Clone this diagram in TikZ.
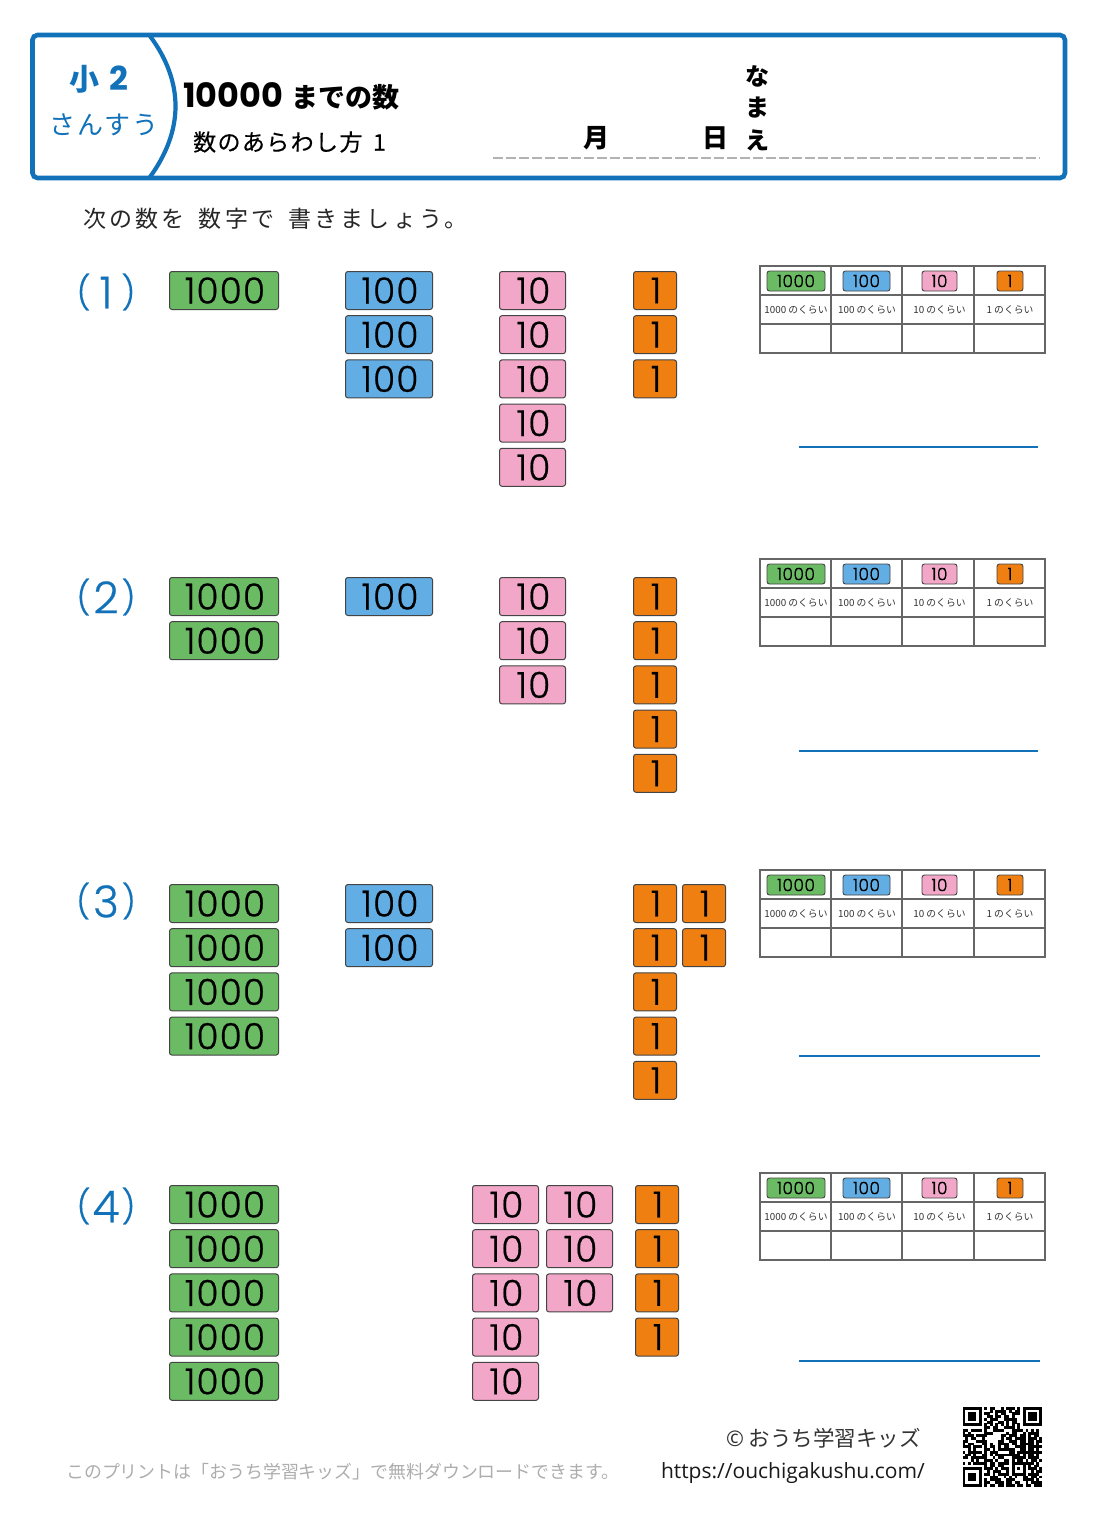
\documentclass[tikz,border=0pt]{standalone}
\usepackage{fontspec}
\setmainfont{Noto Sans CJK JP}
\newfontfamily\jp{Noto Sans CJK JP}
\newfontfamily\jpsp[LetterSpace=8]{Noto Sans CJK JP}
\newfontfamily\jplead[LetterSpace=14]{Noto Sans CJK JP}
\newfontfamily\jpspb[LetterSpace=6,FakeBold=0.25]{Noto Sans CJK JP}
\newfontfamily\lat{Open Sans}
\newfontfamily\pop{Poppins}
\newfontfamily\dig[UprightFont=* Light,LetterSpace=3,FakeBold=0.5]{Poppins}
\newfontfamily\digl[UprightFont=* Light,FakeBold=0.5]{Poppins}
\definecolor{hdblue}{HTML}{1272B9}
\definecolor{g1}{HTML}{6BBB64}
\definecolor{b1}{HTML}{62AEE4}
\definecolor{p1}{HTML}{F3A7C8}
\definecolor{o1}{HTML}{F07F12}
\definecolor{edgec}{HTML}{444444}
\definecolor{gridc}{HTML}{666666}
\tikzset{
 tile/.style={draw=edgec,line width=1pt,rounded corners=2.5pt,inner sep=0pt,anchor=north west,minimum height=38pt,font=\dig\fontsize{36}{36}\selectfont,text=black},
 t1000/.style={tile,fill=g1,minimum width=109pt},
 t100/.style={tile,fill=b1,minimum width=87pt},
 t10/.style={tile,fill=p1,minimum width=66pt},
 t1/.style={tile,fill=o1,minimum width=43pt},
 mini/.style={draw=edgec,line width=0.9pt,rounded corners=2.5pt,inner sep=0pt,minimum height=20pt,font=\dig\fontsize{17}{17}\selectfont,text=black},
 captxt/.style={font=\jp\fontsize{9.8}{9.8}\selectfont,text=black!80,inner sep=0pt},
 num/.style={text=hdblue,font=\digl\fontsize{44}{44}\selectfont,inner sep=0pt},
 ans/.style={draw=hdblue,line width=2pt},
}
\newcommand{\numlab}[2]{\raisebox{4pt}{\fontsize{33}{33}\selectfont(}\kern#2pt #1\kern#2pt\raisebox{4pt}{\fontsize{33}{33}\selectfont)}}
\newcommand{\blocks}[5]{% style, x, y0, n, label
 \foreach \i in {1,...,#4}{
  \node[#1] (#1-#2-#3-\i) at (#2,{#3+(\i-1)*44.2}) {\kern2pt #5};
 }}
\newcommand{\sheet}[1]{%
 \draw[gridc,line width=1.1pt] (760,#1) rectangle (1045,#1+87);
 \foreach \xx in {831,902,974} \draw[gridc,line width=1.1pt] (\xx,#1) -- (\xx,#1+87);
 \foreach \yy in {29,58} \draw[gridc,line width=1.1pt] (760,#1+\yy) -- (1045,#1+\yy);
 \node[mini,fill=g1,minimum width=58pt] (m1000-#1) at (796,#1+15) {1000};
 \node[mini,fill=b1,minimum width=47pt] (m100-#1) at (866.5,#1+15) {100};
 \node[mini,fill=p1,minimum width=35pt] (m10-#1) at (939.5,#1+15) {10};
 \node[mini,fill=o1,minimum width=26pt] (m1-#1) at (1010,#1+15) {1};
 \node[captxt] (c1000-#1) at (796,#1+44) {1000 のくらい};
 \node[captxt] (c100-#1) at (867,#1+44) {100 のくらい};
 \node[captxt] (c10-#1) at (939.5,#1+44) {10 のくらい};
 \node[captxt] (c1-#1) at (1010,#1+44) {1 のくらい};
}
\newcount\qrx
\newcount\qry
\def\qrscan#1{\ifx#1\relax\else
 \ifx#1X\fill[black] (\the\qrx,\the\qry) rectangle ++(1.03,1.03);\fi
 \advance\qrx by 1 \expandafter\qrscan\fi}
\newcommand{\qrrow}[1]{\global\qrx=0 \qrscan#1\relax \global\advance\qry by 1 }
\begin{document}
\begin{tikzpicture}[x=1pt,y=-1pt]
\useasboundingbox (0,0) rectangle (1095,1536);
\fill[white] (0,0) rectangle (1095,1536);
% header
\draw[hdblue,line width=4.6pt,rounded corners=5pt] (32.5,35) rectangle (1065,178);
\draw[hdblue,line width=4.2pt] (150,36) .. controls (184,82) and (184,130) .. (150,177);
\node[text=hdblue,inner sep=0pt,font=\jp\bfseries\fontsize{30}{30}\selectfont] (grade) at (99,79) {小\kern10pt{\pop\bfseries\fontsize{33}{33}\selectfont 2}};
\node[text=hdblue,inner sep=0pt,font=\jpsp\fontsize{26}{26}\selectfont] (subject) at (104,125) {さんすう};
\node[anchor=west,inner sep=0pt,font=\jp\bfseries\fontsize{27}{27}\selectfont] (title) at (183,96) {{\pop\bfseries\fontsize{33.5}{33.5}\selectfont 10000}\kern8pt までの数};
\node[anchor=west,inner sep=0pt,font=\jpspb\fontsize{23}{23}\selectfont] (sub) at (193,142) {数のあらわし方 \kern4pt 1};
\draw[black!30,line width=2pt,dash pattern=on 10pt off 3pt] (493,158) -- (1040,158);
\node[inner sep=0pt,font=\jp\bfseries\fontsize{26}{26}\selectfont] (mon) at (596,138) {月};
\node[inner sep=0pt,font=\jp\bfseries\fontsize{26}{26}\selectfont] (day) at (715,138) {日};
\node[inner sep=0pt,font=\jp\bfseries\fontsize{24}{24}\selectfont] (na) at (757,76) {な};
\node[inner sep=0pt,font=\jp\bfseries\fontsize{24}{24}\selectfont] (ma) at (757,108) {ま};
\node[inner sep=0pt,font=\jp\bfseries\fontsize{24}{24}\selectfont] (e) at (757,140) {え};
\node[anchor=west,inner sep=0pt,text=black!85,font=\jplead\fontsize{23}{23}\selectfont] (lead) at (83,219) {次の数を\kern14pt 数字で\kern14pt 書きましょう。};
% labels
\node[num] (n1) at (106,292) {\numlab{1}{9}};
\node[num] (n2) at (106,597) {\numlab{2}{3}};
\node[num] (n3) at (106,901) {\numlab{3}{3}};
\node[num] (n4) at (106,1206) {\numlab{4}{2}};
% row 1
\blocks{t1000}{169}{271}{1}{1000}
\blocks{t100}{345}{271}{3}{100}
\blocks{t10}{499}{271}{5}{10}
\blocks{t1}{633}{271}{3}{1}
% row 2
\blocks{t1000}{169}{577}{2}{1000}
\blocks{t100}{345}{577}{1}{100}
\blocks{t10}{499}{577}{3}{10}
\blocks{t1}{633}{577}{5}{1}
% row 3
\blocks{t1000}{169}{884}{4}{1000}
\blocks{t100}{345}{884}{2}{100}
\blocks{t1}{633}{884}{5}{1}
\blocks{t1}{682}{884}{2}{1}
% row 4
\blocks{t1000}{169}{1185}{5}{1000}
\blocks{t10}{472}{1185}{5}{10}
\blocks{t10}{546}{1185}{3}{10}
\blocks{t1}{635}{1185}{4}{1}
% sheets
\sheet{266}
\sheet{559}
\sheet{870}
\sheet{1173}
\draw[ans] (799,446.5) -- (1038,446.5);
\draw[ans] (799,751) -- (1038,751);
\draw[ans] (799,1055.5) -- (1040,1055.5);
\draw[ans] (799,1360.5) -- (1040,1360.5);
% footer
\node[anchor=west,inner sep=0pt,text=black!32,font=\jp\fontsize{17.9}{17.9}\selectfont] (free) at (66,1472) {このプリントは「おうち学習キッズ」で無料ダウンロードできます。};
\node[anchor=east,inner sep=0pt,text=black!80,font=\jp\fontsize{21.5}{21.5}\selectfont] (copy) at (921,1438) {{\lat ©} おうち学習キッズ};
\node[anchor=east,inner sep=0pt,text=black!90,font=\lat\fontsize{21}{21}\selectfont] (url) at (925,1473) {https://ouchigakushu.com/};
% QR
\begin{scope}[shift={(962.5,1407)},x=2.74pt,y=-2.74pt]
\global\qry=0
\qrrow{XXXXXXX.X.XX..X.XXX.X.XXXXXXX}
\qrrow{X.....X...X.XXXX.X.XX.X.....X}
\qrrow{X.XXX.X.XX..X.XX..XXX.X.XXX.X}
\qrrow{X.XXX.X..XX.XX.XX.X...X.XXX.X}
\qrrow{X.XXX.X.X.XXX..XXXXX..X.XXX.X}
\qrrow{X.....X..XX..XX.X.XX..X.....X}
\qrrow{XXXXXXX.X.X.X.X.X.X.X.XXXXXXX}
\qrrow{........XX.XX..XXXX.X........}
\qrrow{XX.XXXX.X..XXXX...XXXX.X.X.X.}
\qrrow{X.X.....XXX.....X.XX..X.XXXX.}
\qrrow{XXXX.XXXX.....XX.XXX.XX.X.XX.}
\qrrow{.X.XX..X......X.XX.XXXX.XXX.X}
\qrrow{XX...XXXX....XX..XXX.XX.XX.XX}
\qrrow{X.XX...XX.X..XXXX.XX.XXXXX.X.}
\qrrow{XXX.XXX.X.XX.X.XX..XXXX.XXXXX}
\qrrow{..X.X...XX.X.XXXXXX..XX.XX.X.}
\qrrow{X.XXXXX.X.XXX....XX.XXXXXXXXX}
\qrrow{.XX.X..XX.X.XXXXXXXXX.X.XX.X.}
\qrrow{XX.XXXXXX..X.XX...XXXXX.XXXX.}
\qrrow{...X.X..XXX.X..XX.X.XX.X.XX.X}
\qrrow{X.X.XXXXX.XX.XXXX.XXXXXXXX.X.}
\qrrow{........X.XX.XX...X...X.X.XX.}
\qrrow{XXXXXXX.XXX.X.XXX.X.X.X.XXX.X}
\qrrow{X.....X..X.XXX..X.X...X..X.XX}
\qrrow{X.XXX.X.XX.X.XXXX.XXXXX.XXXX.}
\qrrow{X.XXX.X...XXX..X.X.X..XX.XX.X}
\qrrow{X.XXX.X.X.XXXX..XXX...XXXX.X.}
\qrrow{X.....X.XX..XXX.XX.XX..X.XXXX}
\qrrow{XXXXXXX.X.XX.XX.XXX.XX.XX.XXX}
\end{scope}
\end{tikzpicture}
\end{document}
